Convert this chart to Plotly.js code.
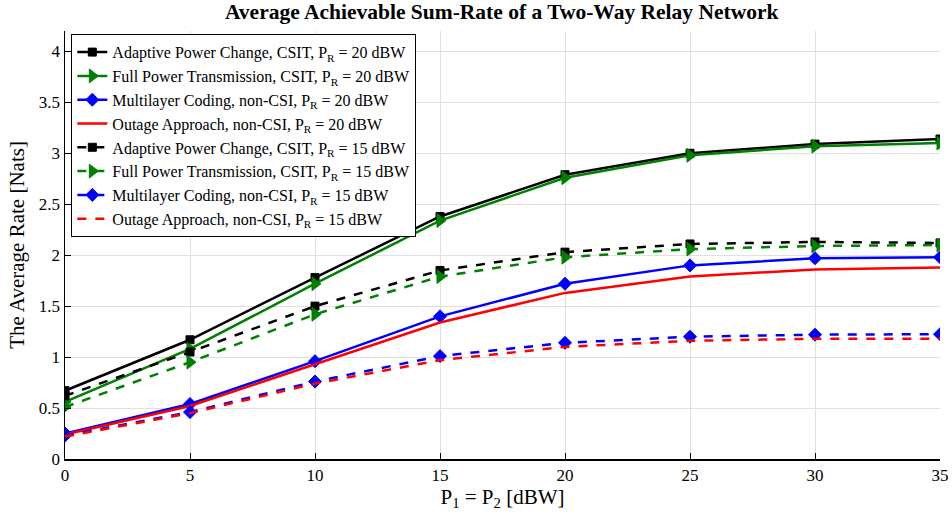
<!DOCTYPE html>
<html>
<head>
<meta charset="utf-8">
<script src="https://cdn.plot.ly/plotly-3.0.1.min.js"></script>
<style>html,body{margin:0;padding:0;background:#fff;}#chart{width:952px;height:521px;}</style>
</head>
<body>
<div id="chart"></div>
<script>
const powerDBW = [0, 5, 10, 15, 20, 25, 30, 35];

const apc20 = [0.67, 1.17, 1.78, 2.38, 2.79, 3.00, 3.09, 3.14];
const fpt20 = [0.56, 1.08, 1.72, 2.34, 2.76, 2.98, 3.07, 3.10];
const mlc20 = [0.25, 0.54, 0.96, 1.40, 1.72, 1.90, 1.97, 1.98];
const out20 = [0.24, 0.52, 0.93, 1.34, 1.63, 1.79, 1.86, 1.88];
const apc15 = [0.62, 1.05, 1.50, 1.85, 2.03, 2.11, 2.13, 2.12];
const fpt15 = [0.51, 0.95, 1.42, 1.79, 1.98, 2.06, 2.09, 2.10];
const mlc15 = [0.23, 0.46, 0.76, 1.01, 1.14, 1.20, 1.22, 1.225];
const out15 = [0.22, 0.45, 0.74, 0.97, 1.10, 1.16, 1.18, 1.18];

const seriesNames = [
  'Adaptive Power Change, CSIT, P<sub>R</sub> = 20 dBW',
  'Full Power Transmission, CSIT, P<sub>R</sub> = 20 dBW',
  'Multilayer Coding, non-CSI, P<sub>R</sub> = 20 dBW',
  'Outage Approach, non-CSI, P<sub>R</sub> = 20 dBW',
  'Adaptive Power Change, CSIT, P<sub>R</sub> = 15 dBW',
  'Full Power Transmission, CSIT, P<sub>R</sub> = 15 dBW',
  'Multilayer Coding, non-CSI, P<sub>R</sub> = 15 dBW',
  'Outage Approach, non-CSI, P<sub>R</sub> = 15 dBW'
];

function tr(y, name, color, dash, symbol, msize) {
  const t = {
    x: powerDBW, y: y, name: name, type: 'scatter',
    mode: symbol ? 'lines+markers' : 'lines',
    line: {color: color, width: 2.5, dash: dash}
  };
  if (symbol) t.marker = {symbol: symbol, size: msize, color: color, line: {color: color, width: 1}};
  return t;
}

const data = [
  tr(apc20, seriesNames[0], '#000000', 'solid', 'square', 8),
  tr(fpt20, seriesNames[1], '#008000', 'solid', 'triangle-right', 12),
  tr(mlc20, seriesNames[2], '#0000ff', 'solid', 'diamond', 10),
  tr(out20, seriesNames[3], '#ff0000', 'solid', null, 0),
  tr(apc15, seriesNames[4], '#000000', 'dash', 'square', 8),
  tr(fpt15, seriesNames[5], '#008000', 'dash', 'triangle-right', 12),
  tr(mlc15, seriesNames[6], '#0000ff', 'dash', 'diamond', 10),
  tr(out15, seriesNames[7], '#ff0000', 'dash', null, 0)
];

const font = 'Liberation Serif, Times New Roman, serif';

const layout = {
  width: 952, height: 521,
  margin: {l: 65, r: 12, t: 31, b: 62},
  paper_bgcolor: '#ffffff', plot_bgcolor: '#ffffff',
  font: {family: font, color: '#000', size: 16},
  title: {text: '<b>Average Achievable Sum-Rate of a Two-Way Relay Network</b>', font: {family: font, size: 21.5, color: '#000'}, x: 0.527, xanchor: 'center', y: 0.993, yanchor: 'top'},
  xaxis: {
    range: [0, 35], tickvals: powerDBW, ticks: 'inside', ticklen: 6, tickcolor: '#000',
    showline: true, linecolor: '#000', linewidth: 1.5, mirror: false,
    showgrid: true, gridcolor: '#e0e0e0', gridwidth: 1, zeroline: false,
    tickfont: {family: font, size: 17, color: '#000'},
    title: {text: 'P<sub>1</sub> = P<sub>2</sub> [dBW]', font: {family: font, size: 21, color: '#000'}, standoff: 4}
  },
  yaxis: {
    range: [0, 4.2], dtick: 0.5, tick0: 0, ticks: 'inside', ticklen: 6, tickcolor: '#000',
    showline: true, linecolor: '#000', linewidth: 1.5, mirror: false,
    showgrid: true, gridcolor: '#e0e0e0', gridwidth: 1, zeroline: false,
    tickfont: {family: font, size: 17, color: '#000'},
    title: {text: 'The Average Rate [Nats]', font: {family: font, size: 21, color: '#000'}, standoff: 8}
  },
  legend: {
    x: 0.007, y: 0.993, xanchor: 'left', yanchor: 'top',
    bgcolor: '#ffffff', bordercolor: '#000', borderwidth: 1.2,
    font: {family: font, size: 16, color: '#000'},
    tracegroupgap: 0, itemwidth: 30
  },
  showlegend: true
};

Plotly.newPlot('chart', data, layout, {displayModeBar: false, staticPlot: true});
</script>
</body>
</html>
